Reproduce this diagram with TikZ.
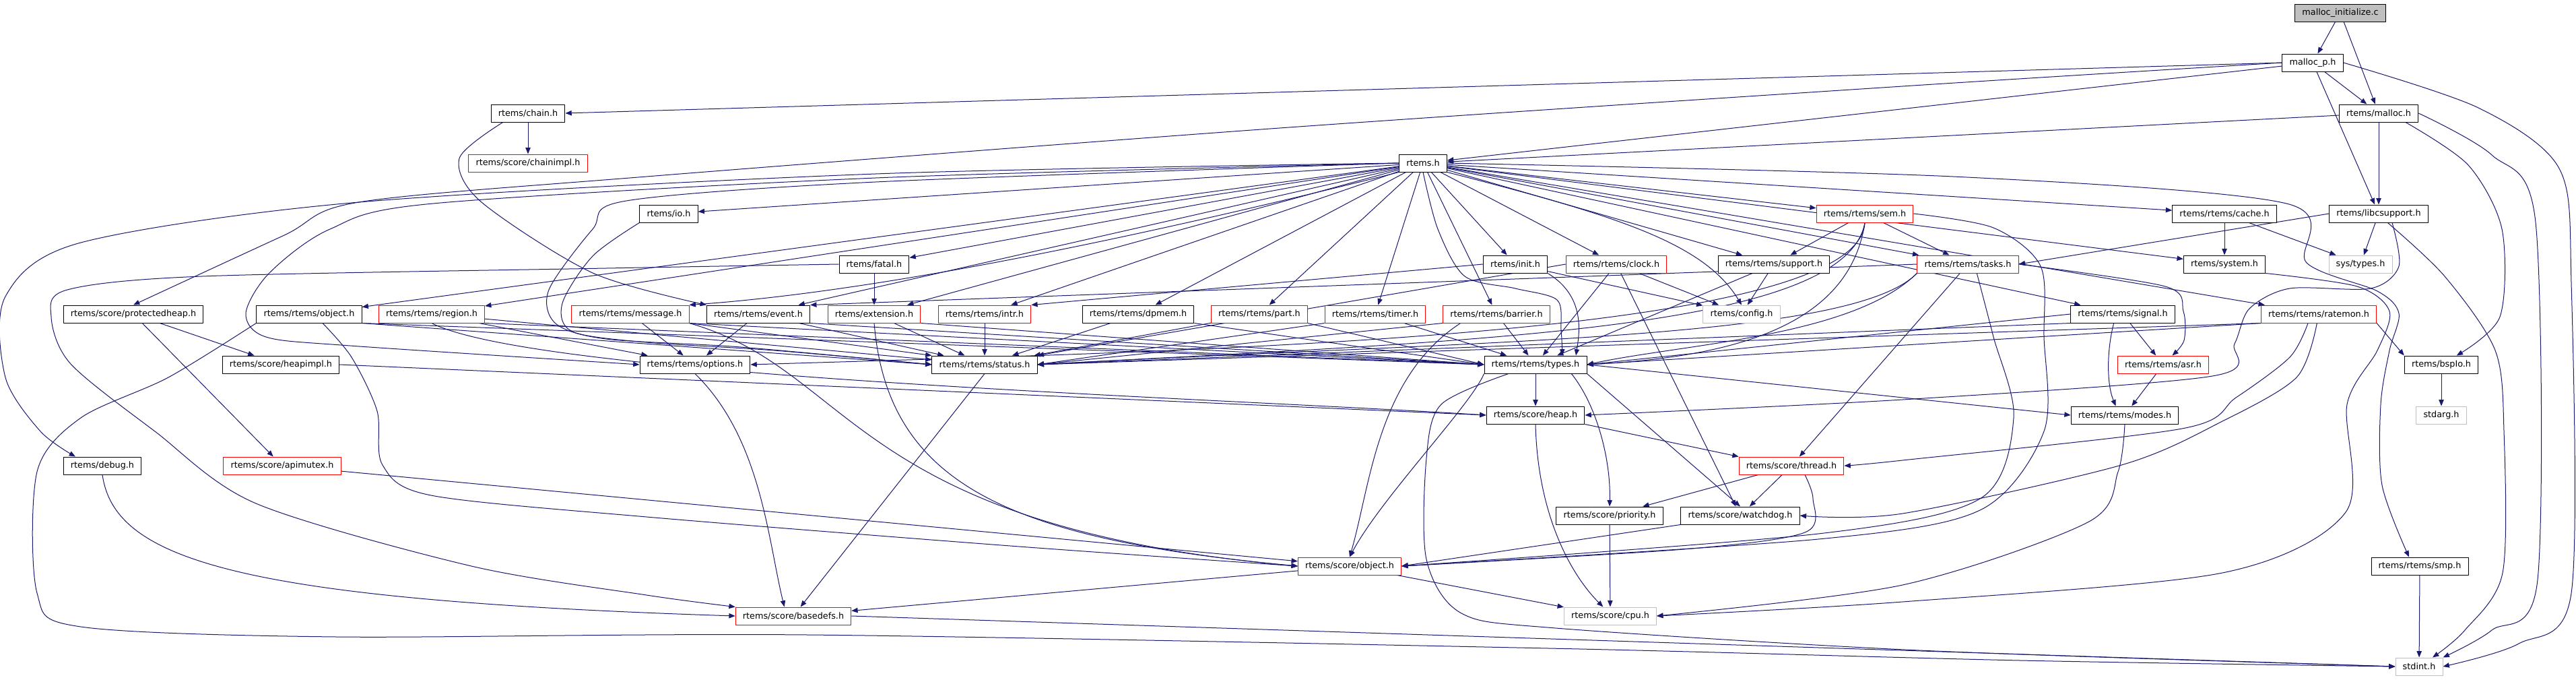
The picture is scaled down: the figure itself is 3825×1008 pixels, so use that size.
\documentclass[tikz,border=0pt]{standalone}
\usepackage{fontspec}
\setmainfont{DejaVu Sans}
\usetikzlibrary{arrows.meta}
\pgfdeclarelayer{edges}
\pgfsetlayers{edges,main}
\definecolor{edgeblue}{HTML}{191970}
\definecolor{sysgray}{HTML}{BFBFBF}
\definecolor{truncred}{HTML}{FF0000}

\begin{document}
\begin{tikzpicture}[x=0.75pt,y=-0.75pt,line cap=round,line join=round
  ,hdr/.style={draw=black,fill=white,line width=0.75pt,inner xsep=8pt,inner ysep=0pt
    ,minimum height=19.5pt,font=\fontsize{9.6}{11}\selectfont}
  ,trunc/.style={hdr,draw=truncred}
  ,sys/.style={hdr,draw=sysgray}
  ,srcfile/.style={hdr,fill=sysgray}
  ,inc/.style={edgeblue,line width=0.75pt,-{Triangle[length=7pt,width=5.5pt]}}]
\useasboundingbox (0,0) rectangle (3825,1008);
\node[srcfile] (root) at (3475,19) {malloc\_initialize.c};
\node[hdr] (mallocp) at (3434,93) {malloc\_p.h};
\node[hdr] (malloc) at (3532,168) {rtems/malloc.h};
\node[hdr] (chain) at (784,168) {rtems/chain.h};
\node[hdr] (rtemsh) at (2113,242) {rtems.h};
\node[trunc] (chainimpl) at (784,242) {rtems/score/chainimpl.h};
\node[hdr] (io) at (993,317) {rtems/io.h};
\node[trunc] (sem) at (2769,317) {rtems/rtems/sem.h};
\node[hdr] (cache) at (3303,317) {rtems/rtems/cache.h};
\node[hdr] (libc) at (3532,317) {rtems/libcsupport.h};
\node[hdr] (fatal) at (1298,392) {rtems/fatal.h};
\node[hdr] (init) at (2250,392) {rtems/init.h};
\node[trunc] (clock) at (2400,392) {rtems/rtems/clock.h};
\node[hdr] (support) at (2634,392) {rtems/rtems/support.h};
\node[trunc] (tasks) at (2922,392) {rtems/rtems/tasks.h};
\node[hdr] (system) at (3303,392) {rtems/system.h};
\node[sys] (systypes) at (3505,392) {sys/types.h};
\node[hdr] (protheap) at (198,466) {rtems/score/protectedheap.h};
\node[hdr] (robject) at (459,466) {rtems/rtems/object.h};
\node[trunc] (region) at (641,466) {rtems/rtems/region.h};
\node[trunc] (message) at (936,466) {rtems/rtems/message.h};
\node[hdr] (event) at (1126,466) {rtems/rtems/event.h};
\node[trunc] (extension) at (1298,466) {rtems/extension.h};
\node[trunc] (intr) at (1462,466) {rtems/rtems/intr.h};
\node[hdr] (dpmem) at (1690,466) {rtems/rtems/dpmem.h};
\node[trunc] (part) at (1870,466) {rtems/rtems/part.h};
\node[trunc] (timer) at (2042,466) {rtems/rtems/timer.h};
\node[trunc] (barrier) at (2222,466) {rtems/rtems/barrier.h};
\node[sys] (config) at (2586,466) {rtems/config.h};
\node[hdr] (signal) at (3152,466) {rtems/rtems/signal.h};
\node[trunc] (ratemon) at (3443,466) {rtems/rtems/ratemon.h};
\node[hdr] (heapimpl) at (417,541) {rtems/score/heapimpl.h};
\node[hdr] (options) at (1032,541) {rtems/rtems/options.h};
\node[hdr] (status) at (1462,541) {rtems/rtems/status.h};
\node[hdr] (types) at (2280,541) {rtems/rtems/types.h};
\node[trunc] (asr) at (3212,541) {rtems/rtems/asr.h};
\node[hdr] (bspio) at (3625,541) {rtems/bspIo.h};
\node[hdr] (heap) at (2280,616) {rtems/score/heap.h};
\node[hdr] (modes) at (3155,616) {rtems/rtems/modes.h};
\node[sys] (stdarg) at (3625,616) {stdarg.h};
\node[hdr] (debug) at (152,691) {rtems/debug.h};
\node[trunc] (apimutex) at (419,691) {rtems/score/apimutex.h};
\node[trunc] (thread) at (2660,691) {rtems/score/thread.h};
\node[hdr] (priority) at (2390,765) {rtems/score/priority.h};
\node[hdr] (watchdog) at (2584,765) {rtems/score/watchdog.h};
\node[trunc] (sobject) at (2004,840) {rtems/score/object.h};
\node[hdr] (smp) at (3593,840) {rtems/rtems/smp.h};
\node[trunc] (basedefs) at (1178,914) {rtems/score/basedefs.h};
\node[sys] (cpu) at (2391,914) {rtems/score/cpu.h};
\node[sys] (stdint) at (3592,989) {stdint.h};

\begin{pgfonlayer}{edges}
\fill[white] (0,0) rectangle (3825,1008);
% straight includes
\foreach \a/\b in {root/mallocp,root/malloc,mallocp/malloc,mallocp/libc,
  mallocp.west/chain.east,mallocp/rtemsh,malloc/rtemsh,malloc/libc,chain/chainimpl,
  rtemsh/robject,rtemsh/region,rtemsh/event,rtemsh/io,rtemsh/fatal,rtemsh/extension,
  rtemsh/intr,rtemsh/dpmem,rtemsh/part,rtemsh/timer,rtemsh/barrier,rtemsh/init,
  rtemsh/clock,rtemsh/support,rtemsh/sem,rtemsh/tasks,rtemsh/cache,rtemsh/system,
  rtemsh/signal,rtemsh/ratemon,protheap/heapimpl,protheap/apimutex,
  heapimpl.east/heap.west,apimutex/sobject,
  robject.south east/types.west,robject.south east/status.west,
  region/options,region/status,region.south east/types.west,
  message/options,message.south east/status.north west,message.south east/types.west,
  event/options,event/status,event.south east/types.west,
  fatal/extension,extension/status,extension.south east/types.west,
  intr/status,dpmem/status,dpmem.south east/types.west,
  part/status,part.south east/types.west,timer.south west/status.east,timer/types,
  barrier.south west/status.east,barrier/types,init.west/intr.north east,init/config,
  clock.west/status.north east,clock/types,clock/watchdog,clock/config,
  support/config,support/types,sem/support,sem/tasks,
  tasks.west/event.north east,tasks/thread,cache/system,cache/systypes,
  libc/systypes,libc.west/tasks.east,signal/asr,signal.west/types.east,
  signal.south west/status.east,ratemon.south east/bspio.north west,
  ratemon.south west/types.east,ratemon.south west/status.east,
  asr/modes,bspio/stdarg,smp/stdint,types/heap,types.south east/watchdog.north,
  types.east/modes.west,heap.south east/thread.north west,thread/priority,
  thread/watchdog,priority/cpu,watchdog.south west/sobject.east,
  sobject/cpu,sobject/basedefs,status.south/basedefs,basedefs.east/stdint.west}
  \draw[inc] (\a) -- (\b);
% routed includes
\draw[inc] plot[smooth] coordinates {(mallocp.west) (2825,128) (1900,190) (960,262)
  (533,300) (420,350) (protheap.north)};
\draw[inc] plot[smooth] coordinates {(mallocp.east) (3680,160) (3800,250) (3818,420)
  (3818,880) (3740,955) (stdint.east)};
\draw[inc] plot[smooth] coordinates {(malloc.east) (3700,230) (3765,330) (3768,860)
  (3700,935) (stdint.north east)};
\draw[inc] plot[smooth] coordinates {([xshift=30pt]malloc.south) (3665,245) (3715,340)
  (3712,470) ([xshift=17pt]bspio.north)};
\draw[inc] plot[smooth] coordinates {([xshift=10pt]libc.south) (3630,410) (3705,520)
  (3718,640) (3716,850) (3660,935) ([xshift=15pt]stdint.north)};
\draw[inc] plot[smooth] coordinates {([xshift=15pt]libc.south) (3562,395) (3520,428)
  (3400,428) (3340,458) (3318,510) (3285,558) (2825,593) (heap.east)};
\draw[inc] plot[smooth] coordinates {(system.south east) (3500,425) (3548,462)
  (3530,520) (3485,600) (3483,760) (3300,850) (2825,893) (cpu.east)};
\draw[inc] plot[smooth] coordinates {(rtemsh.west) (1300,258) (533,300) (120,360)
  (8,440) (8,560) (60,640) ([xshift=-30pt]debug.north)};
\draw[inc] plot[smooth] coordinates {(rtemsh.west) (1300,264) (643,302) (490,340)
  (400,405) (365,465) (395,500) (520,513) (options.west)};
\draw[inc] plot[smooth] coordinates {(rtemsh.west) (1300,270) (930,298) (880,340)
  (815,430) (825,480) (900,503) (1100,515) (status.west)};
\draw[inc] plot[smooth] coordinates {(io.south west) (880,380) (835,450) (850,492)
  (960,508) (1150,520) (status.west)};
\draw[inc] (rtemsh.south west) .. controls (1500,400) and (1200,440) .. (message.north east);
\draw[inc] plot[smooth] coordinates {(rtemsh.south) (2135,340) (2175,410) (2250,428)
  (2312,445) (2318,490) ([xshift=30pt]types.north)};
\draw[inc] (rtemsh.south east) .. controls (2400,320) and (2530,360) .. (config.north);
\draw[inc] plot[smooth] coordinates {(rtemsh.east) (2900,262) (3395,302) (3425,390)
  (3530,432) (3562,465) (3548,520) (3535,600) (3537,720) ([xshift=-12pt]smp.north)};
\draw[inc] plot[smooth] coordinates {([xshift=-28pt]chain.south) (682,235) (715,300)
  (880,405) (event.north west)};
\draw[inc] plot[smooth] coordinates {(robject.south west) (250,560) (120,620) (55,700)
  (55,880) (120,930) (500,945) (1200,942) (2300,962) (3000,980) (stdint.west)};
\draw[inc] plot[smooth] coordinates {([xshift=15pt]robject.south) (522,530) (560,610)
  (568,690) (640,735) (960,767) (1500,810) (sobject.west)};
\draw[inc] (region.south) .. controls (800,560) and (1800,590) .. (heap.west);
\draw[inc] (message.south east) .. controls (1270,550) and (1260,780) .. (sobject.west);
\draw[inc] (extension.south) .. controls (1318,720) and (1500,800) .. (sobject.west);
\draw[inc] ([xshift=-40pt]barrier.south) .. controls (2045,560) and (2035,720) .. (sobject.north);
\draw[inc] (init.south east) .. controls (2355,440) and (2345,495) .. ([xshift=45pt]types.north);
\draw[inc] (sem.south) .. controls (2745,490) and (2560,530) .. (types.east);
\draw[inc] (sem.south) .. controls (2740,490) and (2200,505) .. (status.east);
\draw[inc] (sem.south) .. controls (2760,500) and (1800,520) .. (options.east);
\draw[inc] plot[smooth] coordinates {(sem.east) (2960,338) (3030,395) (3035,500)
  (3035,640) (2940,757) (2700,800) (sobject.east)};
\draw[inc] (tasks.south west) .. controls (2750,500) and (2500,510) .. (types.east);
\draw[inc] (tasks.south west) .. controls (2750,505) and (2200,505) .. (status.east);
\draw[inc] plot[smooth] coordinates {([xshift=10pt]tasks.south) (2960,500) (2990,620)
  (2940,740) (2700,792) (sobject.east)};
\draw[inc] plot[smooth] coordinates {(tasks.east) (3215,425) (3242,462) (3243,505)
  ([xshift=10pt]asr.north)};
\draw[inc] ([xshift=-10pt]signal.south) .. controls (3128,520) and (3128,570) .. ([xshift=-10pt]modes.north);
\draw[inc] plot[smooth] coordinates {([xshift=-12pt]ratemon.south) (3400,530) (3320,590)
  (3240,636) (2825,683) (thread.east)};
\draw[inc] plot[smooth] coordinates {([xshift=-2pt]ratemon.south) (3410,560) (3300,625)
  (3150,690) (2825,762) (watchdog.east)};
\draw[inc] (types.south west) .. controls (2185,600) and (2050,740) .. (sobject.north);
\draw[inc] ([xshift=40pt]types.south) .. controls (2370,600) and (2392,680) .. (priority.north);
\draw[inc] plot[smooth] coordinates {([xshift=-30pt]types.south) (2140,600) (2118,680)
  (2118,830) (2170,910) (2310,932) (2850,965) (stdint.west)};
\draw[inc] (heap.south) .. controls (2283,760) and (2330,850) .. ([xshift=-8pt]cpu.north);
\draw[inc] plot[smooth] coordinates {([xshift=15pt]thread.south) (2692,740) (2680,790)
  (2500,815) (sobject.east)};
\draw[inc] plot[smooth] coordinates {(modes.south) (3145,700) (3100,775) (2825,868)
  (cpu.east)};
\draw[inc] (options.south) .. controls (1130,650) and (1140,800) .. ([xshift=-10pt]basedefs.north);
\draw[inc] plot[smooth] coordinates {(fatal.west) (900,398) (300,410) (100,430) (76,470)
  (105,540) (230,640) (380,747) (700,840) (960,883) (basedefs.north west)};
\draw[inc] (debug.south) .. controls (170,830) and (350,890) .. (basedefs.west);
\end{pgfonlayer}
\end{tikzpicture}
\end{document}
